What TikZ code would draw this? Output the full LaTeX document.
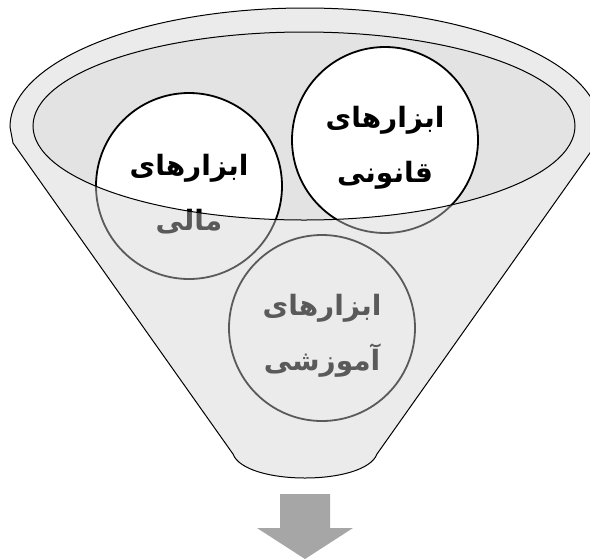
\documentclass[tikz,border=0pt]{standalone}
\usepackage{fontspec}
\newfontfamily\farsi[Script=Arabic]{DejaVu Sans}
\TeXXeTstate=1
\usetikzlibrary{positioning}
\definecolor{funnelgray}{HTML}{EBEBEB}
\definecolor{rimgray}{HTML}{E3E3E3}
\definecolor{fadegray}{HTML}{5A5A5A}
\definecolor{arrowgray}{HTML}{A6A6A6}
\newcommand{\fa}[1]{\beginR #1\endR}
\newcommand{\toolname}[1]{\rule{0pt}{37pt}\fa{ابزارهای}\\ \fa{#1}}

\begin{document}
\begin{tikzpicture}[x=1pt, y=-1pt,
  tool/.style={circle, minimum size=186pt, inner sep=0pt, align=center,
               line width=1.8pt, font=\farsi\bfseries\fontsize{28}{55}\selectfont},
  back/.style={tool, draw=fadegray, text=fadegray},
  front/.style={tool, draw=black, fill=white, text=black}]
  \clip (0,0) rectangle (590,558);
  % funnel body
  \draw[fill=funnelgray, line width=1pt]
    (10,127) arc[start angle=180, end angle=360, x radius=295, y radius=119]
    -- (597,143) -- (377,454) .. controls (365,486) and (245,486) .. (233,454)
    -- (13,143) -- cycle;
  % the three tools, seen through the funnel
  \node[back] (mali) at (189,186) {\toolname{مالی}};
  \node[back] (qanuni) at (385,140) {\toolname{قانونی}};
  \node[back] (amuzeshi) at (322,328) {\toolname{آموزشی}};
  % mouth of the funnel
  \fill[rimgray] (304,126) ellipse[x radius=271, y radius=94];
  \begin{scope}
    \clip (304,126) ellipse[x radius=271, y radius=94];
    \node[front] (mali-top) at (mali) {\toolname{مالی}};
    \node[front] (qanuni-top) at (qanuni) {\toolname{قانونی}};
  \end{scope}
  \draw[line width=1pt] (304,126) ellipse[x radius=271, y radius=94];
  % output arrow
  \fill[arrowgray] (280,494) -- (330,494) -- (330,528) -- (353,528)
    -- (305,559) -- (257,528) -- (280,528) -- cycle;
\end{tikzpicture}
\end{document}
